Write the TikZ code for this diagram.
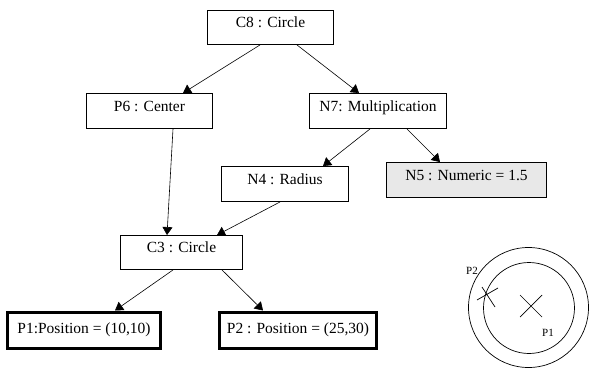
\documentclass[tikz,border=0pt]{standalone}
\usepackage{fontspec}
\setmainfont{Liberation Serif}
\usetikzlibrary{arrows.meta}
\definecolor{numfill}{RGB}{232,232,232}

\begin{document}
\begin{tikzpicture}[x=1pt, y=-1pt,
		obj/.style={draw, line width=0.9pt, inner sep=0pt, text height=12pt, text depth=12pt, font=\fontsize{15.5}{18}\selectfont},
		pointobj/.style={draw, line width=3pt, inner sep=0pt, minimum width=#1, minimum height=36pt, font=\fontsize{15.5}{18}\selectfont},
		link/.style={-{Triangle[length=8pt, width=10pt]}, line width=0.6pt},
	]
		\useasboundingbox (0,0) rectangle (592,367);
	
		\node[obj, minimum width=126pt, minimum height=34pt] (c8) at (270.5,27.5) {C8 : Circle};
		\node[obj, minimum width=126pt, minimum height=35pt] (p6) at (149.5,111) {P6 : Center};
		\node[obj, minimum width=137pt, minimum height=35pt] (n7) at (378,111) {N7: Multiplication};
		\node[obj, minimum width=127pt, minimum height=35pt] (n4) at (285,184) {N4 : Radius};
		\node[obj, fill=numfill, minimum width=160pt, minimum height=35pt] (n5) at (466.5,180) {N5 : Numeric = 1.5};
		\node[obj, minimum width=122pt, minimum height=34pt] (c3) at (181.5,252.5) {C3 : Circle};
		\node[pointobj=153pt] (p1) at (84,330) {P1:Position = (10,10)};
		\node[pointobj=157pt] (p2) at (298,330) {P2 : Position = (25,30)};
		
		\draw[link] ([xshift=-10.5pt]c8.south) -- ([xshift=33.5pt]p6.north);
		\draw[link] ([xshift=26.5pt]c8.south) -- ([xshift=-19pt]n7.north);
		\draw[link] ([xshift=23.5pt]p6.south) -- ([xshift=-14.5pt]c3.north);
		\draw[link] ([xshift=-8pt]n7.south) -- ([xshift=38pt]n4.north);
		\draw[link] ([xshift=29pt]n7.south) -- ([xshift=-26.5pt]n5.north);
		\draw[link] ([xshift=-5pt]n4.south) -- ([xshift=35.5pt]c3.north);
		\draw[link] ([xshift=-8.5pt]c3.south) -- ([xshift=31pt]p1.north);
		\draw[link] ([xshift=40.5pt]c3.south) -- ([xshift=-35pt]p2.north);
		
		% sketch of the two circles
		\draw[line width=0.7pt] (528.5,307.5) circle (60);
		\draw[line width=0.7pt] (529,308) circle (45.5);
		\draw[line width=0.7pt] (520,295) -- (542,317) (520,317) -- (542,295);
		\draw[line width=0.7pt] (477,300) -- (498,288) (482,287) -- (495,307);
		\node[font=\fontsize{11}{13}\selectfont, inner sep=0pt] (lp1) at (548,333) {P1};
		\node[font=\fontsize{11}{13}\selectfont, inner sep=0pt] (lp2) at (472,271) {P2};
	\end{tikzpicture}
\end{document}
